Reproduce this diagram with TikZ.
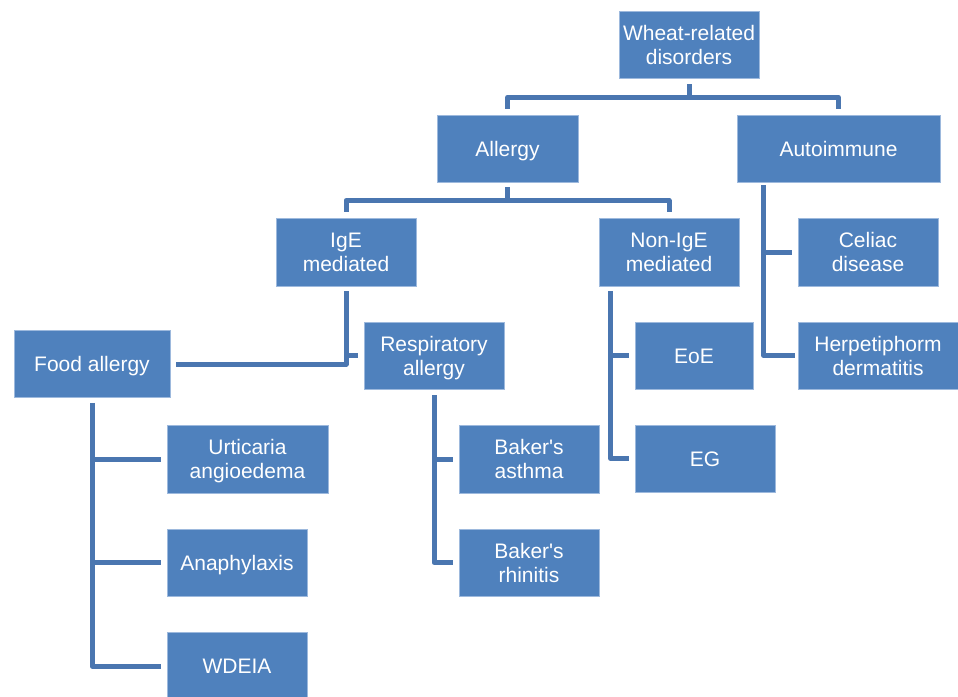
\documentclass[tikz,border=0pt]{standalone}
\usepackage{fontspec}
\setmainfont{Liberation Sans}[Ligatures=TeXOff]
\definecolor{boxfill}{HTML}{4F81BD}
\definecolor{boxedge}{HTML}{9DB9DD}
\definecolor{linecol}{HTML}{4A76B0}
\begin{document}
\begin{tikzpicture}[x=1pt,y=-1pt,
  box/.style={fill=boxfill,draw=boxedge,line width=0.7pt,text=white,align=center,
    inner sep=0pt,minimum width=140pt,minimum height=68pt,
    font=\fontsize{21}{24}\selectfont},
  oneline/.style={text height=15pt,text depth=0pt},
  conn/.style={draw=linecol,line width=5pt,line join=round}]
\useasboundingbox (0,0) rectangle (958,696);
\fill[white] (0,0) rectangle (958,696);
% boxes
\node[box,minimum height=67pt] (wheat) at (689,44.5) {Wheat-related\\disorders};
\node[box,oneline,minimum width=141pt,minimum height=67pt] (allergy) at (507.5,148.5) {Allergy};
\node[box,oneline,minimum width=203pt,minimum height=67pt] (auto) at (838.5,148.5) {Autoimmune};
\node[box] (ige) at (346,252) {IgE\\mediated};
\node[box] (nonige) at (669,252) {Non-IgE\\mediated};
\node[box] (celiac) at (868,252) {Celiac\\disease};
\node[box,oneline,minimum width=156pt,minimum height=67pt] (food) at (92,364) {Food allergy};
\node[box,minimum height=67pt] (resp) at (434,355.5) {Respiratory\\\smash{allergy}};
\node[box,oneline,minimum width=118pt,minimum height=67pt] (eoe) at (694,355.5) {EoE};
\node[box,minimum width=160pt,minimum height=67pt] (herp) at (878,355.5) {Herpetiphorm\\dermatitis};
\node[box,oneline,minimum height=67pt] (eg) at (705,458.5) {EG};
\node[box,minimum width=161pt] (urt) at (247.5,459) {Urticaria\\\smash{angioedema}};
\node[box] (asthma) at (529,459) {Baker's\\asthma};
\node[box,oneline,minimum height=67pt] (anaph) at (237,562.5) {Anaphylaxis};
\node[box,minimum height=67pt] (rhin) at (529,562.5) {Baker's\\rhinitis};
\node[box,oneline] (wdeia) at (237,666) {WDEIA};
% top level
\coordinate (t1) at ([yshift=-19pt]wheat.south);
\draw[conn] ([yshift=-6pt]wheat.south) -- (t1);
\draw[conn] ([yshift=6pt]allergy.north) |- (t1) -| ([yshift=6pt]auto.north);
% allergy
\coordinate (a1) at ([yshift=-18pt]allergy.south);
\draw[conn] ([yshift=-5pt]allergy.south) -- (a1);
\draw[conn] ([yshift=6pt]ige.north) |- (a1) -| ([yshift=6pt]nonige.north);
% IgE
\draw[conn] ([yshift=-5pt]ige.south) |- ([xshift=6pt]food.east);
\draw[conn] (ige.south |- resp.west) -- ([xshift=-6pt]resp.west);
% food allergy
\draw[conn] ([yshift=-5pt]food.south) |- ([xshift=-6pt]wdeia.west);
\draw[conn] (food.south |- urt.west) -- ([xshift=-6pt]urt.west);
\draw[conn] (food.south |- anaph.west) -- ([xshift=-6pt]anaph.west);
% respiratory
\draw[conn] ([yshift=-6pt]resp.south) |- ([xshift=-6pt]rhin.west);
\draw[conn] (resp.south |- asthma.west) -- ([xshift=-6pt]asthma.west);
% non-IgE
\coordinate (n1) at ([xshift=12pt,yshift=-5pt]nonige.south west);
\draw[conn] (n1) |- ([xshift=-6pt]eg.west);
\draw[conn] (n1 |- eoe.west) -- ([xshift=-6pt]eoe.west);
% autoimmune
\coordinate (u1) at ([xshift=27pt,yshift=-3pt]auto.south west);
\draw[conn] (u1) |- ([xshift=-3pt]herp.west);
\draw[conn] (u1 |- celiac.west) -- ([xshift=-6pt]celiac.west);
\end{tikzpicture}
\end{document}
